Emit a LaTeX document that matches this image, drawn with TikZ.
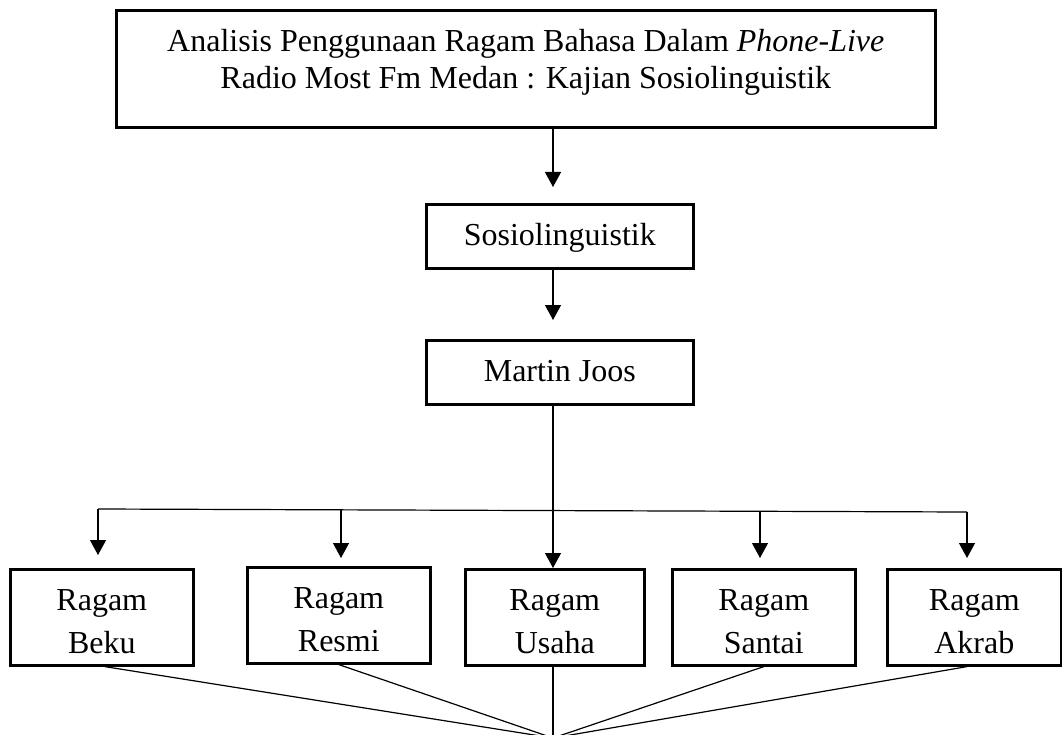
\documentclass[tikz,border=0pt]{standalone}
\usepackage{fontspec}
\setmainfont{Liberation Serif}
\usetikzlibrary{arrows.meta}
\begin{document}
\begin{tikzpicture}[x=1pt,y=-1pt,
  box/.style={draw,line width=2.6pt,inner sep=0pt,align=center,anchor=north west,
              font=\fontsize{32}{43}\selectfont},
  smallbox/.style={box,minimum width=267pt,minimum height=64pt,text height=41pt,text depth=23pt},
  ragam/.style={box,minimum width=183pt,minimum height=96pt,text height=84pt,text depth=12pt},
  conn/.style={line width=1.2pt},
  arr/.style={conn,-{Triangle[length=15pt,width=16pt]}}]
\useasboundingbox[fill=white] (0,0) rectangle (1062,735);

\node[box,minimum width=819pt,minimum height=117pt,text height=78pt,text depth=39pt,
      font=\fontsize{32}{37}\selectfont] (top) at (115,9)
  {Analisis Penggunaan Ragam Bahasa Dalam \textit{Phone-Live}\\Radio Most Fm Medan : Kajian Sosiolinguistik};
\node[smallbox] (sos) at (425,203) {Sosiolinguistik};
\node[smallbox] (mj) at (425,339) {Martin Joos};

\node[ragam] (beku)   at (9,568)   {Ragam\\Beku};
\node[ragam] (resmi)  at (246,566) {Ragam\\Resmi};
\node[ragam,minimum width=179pt] (usaha) at (464,568) {Ragam\\Usaha};
\node[ragam] (santai) at (671,568) {Ragam\\Santai};
\node[ragam,minimum width=174pt] (akrab) at (886,568) {Ragam\\Akrab};

\coordinate (spine) at (553,0);
\coordinate (busL) at (98,509);
\coordinate (busResmi) at (341,510);
\coordinate (busSantai) at (760,511);
\coordinate (busR) at (967,512);
\coordinate (conv) at (553,738);

\draw[arr,shorten >=16pt] (top.south -| spine) -- (sos.north -| spine);
\draw[arr,shorten >=19pt] (sos.south -| spine) -- (mj.north -| spine);
\draw[arr] (mj.south -| spine) -- (usaha.north -| spine);

\draw[conn] (busL) -- (busR);
\draw[arr,shorten >=13pt] (busL) -- (beku.north -| busL);
\draw[arr,shorten >=8pt] (busResmi) -- (resmi.north -| busResmi);
\draw[arr,shorten >=10pt] (busSantai) -- (santai.north -| busSantai);
\draw[arr,shorten >=10pt] (busR) -- (akrab.north -| busR);

\draw[conn] ([xshift=3pt]beku.south) -- (conv);
\draw[conn] (resmi.south) -- (conv);
\draw[conn] (usaha.south -| spine) -- (conv);
\draw[conn] (santai.south) -- (conv);
\draw[conn] (akrab.south -| busR) -- (conv);
\end{tikzpicture}
\end{document}
